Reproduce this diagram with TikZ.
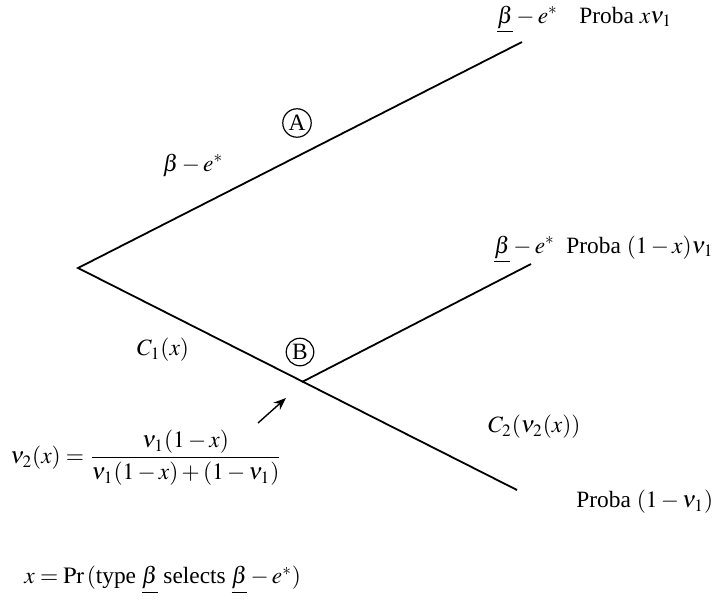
\documentclass[tikz,border=0pt]{standalone}
\usepackage{amsmath}
\usepackage{mathptmx}
\usepackage{fontspec}
\setmainfont{Liberation Serif}
\usepackage{tikz}
\usetikzlibrary{arrows.meta, positioning, calc}

\begin{document}
\begin{tikzpicture}[
    x=0.0176cm, y=-0.0176cm,
    branch/.style={line width=0.9pt},
    label/.style={inner sep=1pt, font=\fontsize{11.7}{14}\selectfont},
    marker/.style={circle, draw, line width=0.6pt, inner sep=1pt, minimum size=0.47cm,
      font=\fontsize{11.7}{14}\selectfont},
    pointer/.style={line width=0.7pt, -{Stealth[length=2.2mm, width=1.7mm]}}
]
\useasboundingbox (0,0) rectangle (716,606);

% tree points
\coordinate (root) at (78,268);
\coordinate (topend) at (522,42);
\coordinate (split) at (302,382);
\coordinate (midend) at (531,264);
\coordinate (lowend) at (517,490);

\draw[branch] (topend) -- (root) -- (lowend);
\draw[branch] (split) -- (midend);

% ends of branches
\node[label, anchor=base west] (topdev) at (495,23) {$\underline{\beta}-e^{*}$};
\node[label, anchor=base west] (topprob) at (577,23) {Proba $x\nu_{1}$};
\node[label, anchor=base west] (middev) at (492,253) {$\underline{\beta}-e^{*}$};
\node[label, anchor=base west] (midprob) at (564,253) {Proba $(1-x)\nu_{1}$};
\node[label, anchor=west] (lowprob) at (574,502) {Proba $(1-\nu_{1})$};

% labels along the branches
\node[label] (updev) at (193,165) {$\beta-e^{*}$};
\node[marker] (markA) at (297,123) {A};
\node[label] (costone) at (163,350) {$C_{1}(x)$};
\node[marker] (markB) at (300,352) {B};
\node[label, anchor=west] (costtwo) at (486,427) {$C_{2}(\nu_{2}(x))$};

% posterior
\node[label, anchor=west] (nutwo) at (8,458)
  {$\nu_{2}(x)=\dfrac{\nu_{1}(1-x)}{\nu_{1}(1-x)+(1-\nu_{1})}$};
\coordinate (ptrfrom) at (258,423);
\coordinate (ptrto) at (286,398);
\draw[pointer] (ptrfrom) -- (ptrto);

\node[label, anchor=west] (defx) at (22,580)
  {$x=\mathrm{Pr}\,($type $\underline{\beta}$ selects $\underline{\beta}-e^{*})$};
\end{tikzpicture}
\end{document}
